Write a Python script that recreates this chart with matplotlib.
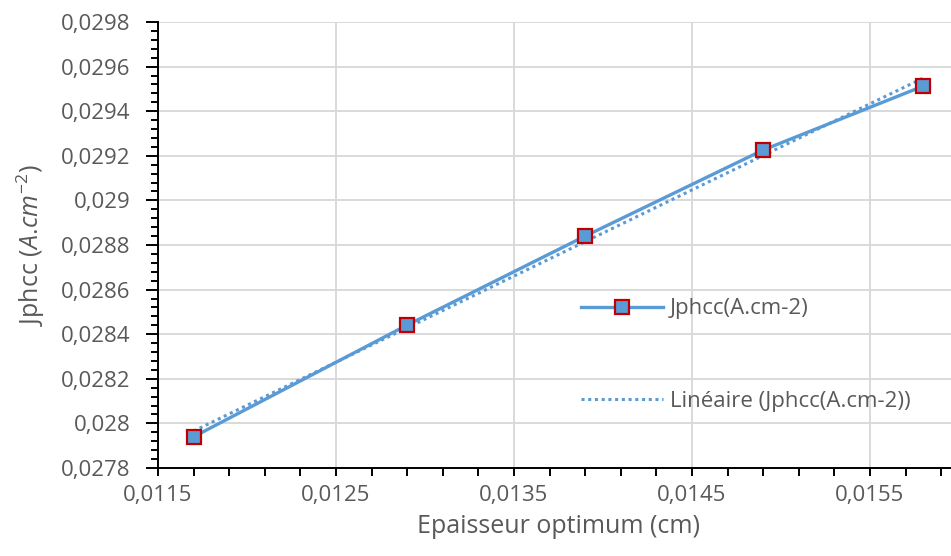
import matplotlib.pyplot as plt
import numpy as np
from matplotlib.ticker import MultipleLocator, FuncFormatter

plt.rcParams["font.family"] = ["Open Sans", "DejaVu Sans"]
plt.rcParams["mathtext.fontset"] = "custom"
plt.rcParams["mathtext.rm"] = "Open Sans"
plt.rcParams["mathtext.it"] = "Open Sans:italic"

# optimum thickness (cm) vs short-circuit photocurrent density (A/cm2)
epaisseur = [0.0117, 0.0129, 0.0139, 0.0149, 0.0158]
jphcc = [0.02794, 0.028441, 0.02884, 0.029226, 0.029513]

TXT = "#595959"
BLUE = "#5B9BD5"
RED = "#C00000"
GRID = "#D9D9D9"

fig = plt.figure(figsize=(9.51, 5.56), dpi=100)
ax = fig.add_axes([158 / 951, 88 / 556, 801 / 951, 446 / 556])

x = np.array(epaisseur)
y = np.array(jphcc)

# linear trend fitted over the series
a, b = np.polyfit(x, y, 1)
xt = np.array([x.min(), x.max()])
ax.plot(xt, a * xt + b, linestyle=(0, (1, 1.2)), color=BLUE, lw=2.2,
        label="Linéaire (Jphcc(A.cm-2))", zorder=3)

ax.plot(x, y, "-", color=BLUE, lw=2.4, marker="s", markersize=10.5,
        markerfacecolor=BLUE, markeredgecolor=RED, markeredgewidth=1.6,
        label="Jphcc(A.cm-2)", zorder=4)

ax.set_xlim(0.0115, 0.016)
ax.set_ylim(0.0278, 0.0298)

ax.xaxis.set_major_locator(MultipleLocator(0.001, offset=0.0005))
ax.xaxis.set_minor_locator(MultipleLocator(0.0002, offset=0.0001))
ax.yaxis.set_major_locator(MultipleLocator(0.0002))
ax.yaxis.set_minor_locator(MultipleLocator(0.00004))

fmt = FuncFormatter(lambda v, p: f"{v:.4f}".rstrip("0").replace(".", ","))
ax.xaxis.set_major_formatter(fmt)
ax.yaxis.set_major_formatter(fmt)

ax.grid(True, which="major", color=GRID, lw=1.4)
ax.set_axisbelow(True)
for s in ("top", "right"):
    ax.spines[s].set_visible(False)
for s in ("left", "bottom"):
    ax.spines[s].set_color("black")
    ax.spines[s].set_linewidth(1.4)

ax.tick_params(which="both", width=1.4, color="black",
               labelsize=16, labelcolor=TXT)
ax.tick_params(axis="y", which="major", length=8.6, pad=11)
ax.tick_params(axis="y", which="minor", length=5)
ax.tick_params(axis="x", which="both", length=6, pad=6)

ax.set_xlabel("Epaisseur optimum (cm)", fontsize=18, color=TXT, labelpad=6)
ax.set_ylabel(r"Jphcc ($\mathit{A.\!cm}^{-2}$)", fontsize=18, color=TXT, labelpad=10)

h, l = ax.get_legend_handles_labels()
ax.legend(h[::-1], l[::-1], loc="upper left", bbox_to_anchor=(0.514, 0.405),
          frameon=False, fontsize=16, labelcolor=TXT, handlelength=3.7,
          handletextpad=0.3, labelspacing=3.2, borderpad=0)

fig.savefig("out.png", dpi=100)
